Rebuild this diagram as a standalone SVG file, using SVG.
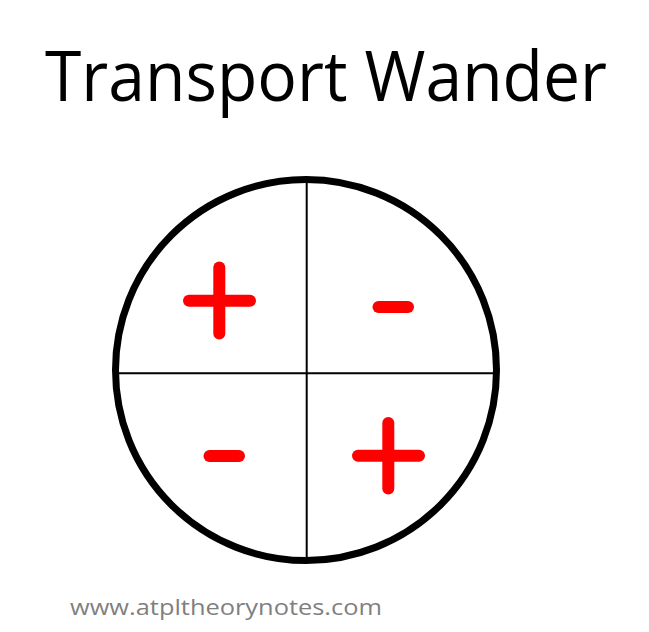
<svg xmlns="http://www.w3.org/2000/svg" width="649" height="632" viewBox="0 0 649 632">
<style>
.sign{stroke:#ff0000;stroke-width:12;stroke-linecap:round;fill:none}
.div{stroke:#000;stroke-width:2}
</style>
<rect width="649" height="632" fill="#fff"/>
<g id="title"><text x="326" y="101" font-family="Open Sans, sans-serif" font-size="70" text-anchor="middle" textLength="562" lengthAdjust="spacingAndGlyphs" fill="#000">Transport Wander</text></g>
<g id="dial">
<circle cx="306" cy="370" r="190.5" fill="#fff" stroke="#000" stroke-width="7"/>
<line class="div" x1="306.7" y1="180" x2="306.7" y2="560"/>
<line class="div" x1="116" y1="373.3" x2="496" y2="373.3"/>
</g>
<g id="q1"><line class="sign" x1="189" y1="300.7" x2="250" y2="300.7"/><line class="sign" x1="219.3" y1="267.5" x2="219.3" y2="333.5"/></g>
<g id="q2"><line class="sign" x1="378.5" y1="307" x2="408" y2="307"/></g>
<g id="q3"><line class="sign" x1="209.5" y1="456" x2="239" y2="456"/></g>
<g id="q4"><line class="sign" x1="358" y1="455.7" x2="419" y2="455.7"/><line class="sign" x1="388.3" y1="423" x2="388.3" y2="488.5"/></g>
<g id="footer"><text x="70" y="615" font-family="Open Sans, sans-serif" font-size="22" textLength="312" lengthAdjust="spacingAndGlyphs" fill="#7f7f7f">www.atpltheorynotes.com</text></g>
</svg>
